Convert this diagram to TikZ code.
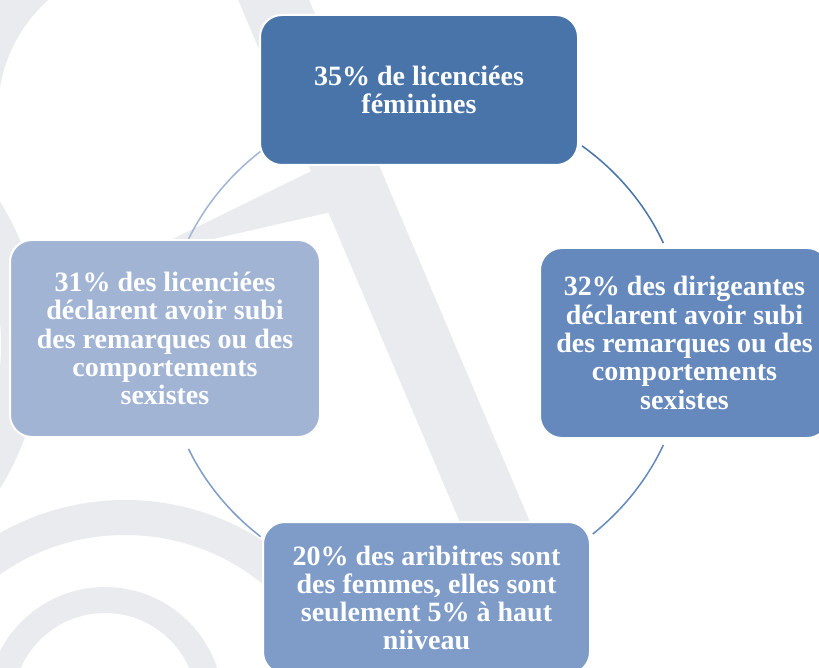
\documentclass[tikz,border=0pt]{standalone}
\usepackage{fontspec}
\setmainfont{Liberation Serif}
\usetikzlibrary{calc}
\definecolor{cTop}{HTML}{4874AA}
\definecolor{cRight}{HTML}{6589BD}
\definecolor{cLeft}{HTML}{A1B4D4}
\definecolor{cBottom}{HTML}{7F9CC8}
\definecolor{wm}{HTML}{EAEBEF}
\begin{document}
\begin{tikzpicture}[x=1pt,y=-1pt,
  box/.style={rounded corners=22pt, draw=white, line width=2pt, text=white,
    align=center, inner sep=0pt,
    font=\fontsize{28}{28.3}\selectfont\bfseries},
  link/.style={line width=1.5pt},
  mark/.style={wm}]
\useasboundingbox (0,0) rectangle (819,668);
% watermark
\begin{scope}
  \clip (0,0) rectangle (819,668);
  \fill[wm] (236,-5) -- (307,-5) -- (563,600) -- (493,600) -- cycle;
  \fill[wm] (150,250) -- (340,157) -- (340,210) -- (200,242) -- (200,260) -- (150,260) -- cycle;
  \draw[wm, line width=40pt] (-230,345) circle[radius=251pt];
  \begin{scope}
    \clip (0,0) rectangle (80,120);
    \draw[wm, line width=50pt] (148,112) circle[radius=175pt];
  \end{scope}
  \draw[wm, line width=35pt] (125,753) circle[radius=235.5pt];
  \draw[wm, line width=26pt] (105,705) circle[radius=105pt];
\end{scope}
% connectors
\coordinate (ring) at (425,344);
\draw[link, cTop] ($(ring)+(-53:261 and 248)$) arc[start angle=53, end angle=24, x radius=261pt, y radius=248pt];
\draw[link, cRight] ($(ring)+(24:261 and 248)$) arc[start angle=-24, end angle=-50, x radius=261pt, y radius=248pt];
\draw[link, cBottom] ($(ring)+(129:261 and 248)$) arc[start angle=-129, end angle=-155, x radius=261pt, y radius=248pt];
\draw[link, cLeft] ($(ring)+(205:261 and 248)$) arc[start angle=-205, end angle=-231, x radius=261pt, y radius=248pt];
% boxes
\node[box, fill=cTop, minimum width=318pt, minimum height=150pt] (top) at (419,90)
  {35\% de licenciées\\féminines};
\node[box, fill=cRight, minimum width=289pt, minimum height=190pt] (right) at (684.5,343)
  {32\% des dirigeantes\\déclarent avoir subi\\des remarques ou des\\comportements\\sexistes};
\node[box, fill=cLeft, minimum width=310pt, minimum height=197pt] (left) at (165,338.5)
  {31\% des licenciées\\déclarent avoir subi\\des remarques ou des\\comportements\\sexistes};
\node[box, fill=cBottom, minimum width=327pt, minimum height=152pt] (bottom) at (426.5,598)
  {20\% des aribitres sont\\des femmes, elles sont\\seulement 5\% à haut\\niiveau};
\end{tikzpicture}
\end{document}
